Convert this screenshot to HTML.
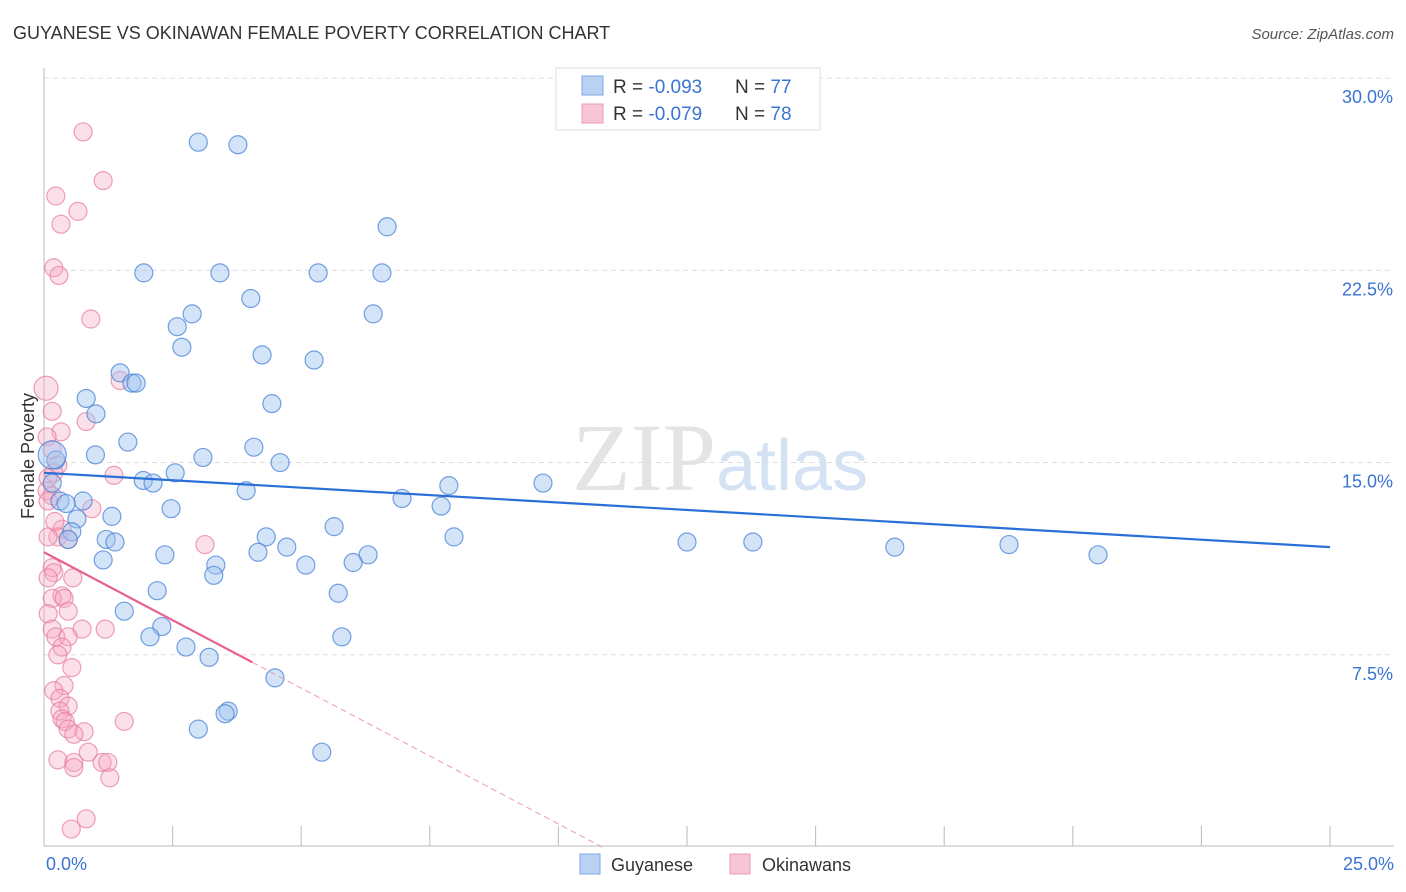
<!DOCTYPE html>
<html><head><meta charset="utf-8"><style>
body{margin:0;background:#fff;font-family:"Liberation Sans",sans-serif;}
svg{display:block}
</style></head><body>
<svg id="chart" width="1406" height="892" xmlns="http://www.w3.org/2000/svg">
<text x="13" y="39" font-size="18" fill="#333">GUYANESE VS OKINAWAN FEMALE POVERTY CORRELATION CHART</text>
<text x="1394" y="39" font-size="15" fill="#555" font-style="italic" text-anchor="end">Source: ZipAtlas.com</text>
<text x="716" y="490" font-size="96" fill="#e4e4e4" text-anchor="end" font-family="Liberation Serif,serif">ZIP</text>
<text x="716" y="490" font-size="72" fill="#d4e2f4">atlas</text>
<g id="grid"></g>
<line x1="44" y1="68" x2="44" y2="846" stroke="#bbb"/>
<line x1="44" y1="846" x2="1394" y2="846" stroke="#bbb"/>
<g id="ticks"></g>
<text transform="translate(34,456) rotate(-90)" font-size="18" fill="#333" text-anchor="middle">Female Poverty</text>
<text x="46" y="870" font-size="18" fill="#3a74d4">0.0%</text>
<text x="1394" y="870" font-size="18" fill="#3a74d4" text-anchor="end">25.0%</text>
<g id="pts"></g>
<g id="lines"></g>
<g>
<rect x="556" y="68" width="264" height="62" fill="#fff" stroke="#ddd"/>
<rect x="582" y="76" width="21" height="19" fill="#b9d2f3" stroke="#7ea9e6"/>
<rect x="582" y="104" width="21" height="19" fill="#f8c5d5" stroke="#eb9ab4"/>
<text x="613" y="93" font-size="19" fill="#333">R = <tspan fill="#3a74d4">-0.093</tspan><tspan x="735">N = </tspan><tspan fill="#3a74d4">77</tspan></text>
<text x="613" y="120" font-size="19" fill="#333">R = <tspan fill="#3a74d4">-0.079</tspan><tspan x="735">N = </tspan><tspan fill="#3a74d4">78</tspan></text>
</g>
<rect x="580" y="854" width="20" height="20" fill="#b9d2f3" stroke="#7ea9e6"/>
<text x="611" y="871" font-size="18" fill="#333">Guyanese</text>
<rect x="730" y="854" width="20" height="20" fill="#f8c5d5" stroke="#eb9ab4"/>
<text x="762" y="871" font-size="18" fill="#333">Okinawans</text>
</svg>
<script>
const yTicks=[7.5,15,22.5,30];
const yTickLabels=["7.5%","15.0%","22.5%","30.0%"];
const xTicks=[0,2.5,5,7.5,10,12.5,15,17.5,20,22.5,25];
const blueX=[3.0,3.77,6.67,1.94,3.42,5.33,6.57,4.02,2.88,6.40,2.59,2.68,4.24,5.25,1.48,1.71,1.79,0.82,4.43,1.01,1.63,4.08,1.0,3.09,4.59,0.23,0.16,2.55,1.93,2.12,0.16,3.93,7.87,9.70,6.96,7.72,0.76,0.31,0.43,2.47,0.64,1.32,5.64,4.32,7.97,0.54,0.47,1.21,1.38,4.72,4.16,12.5,13.78,16.54,18.76,20.49,2.35,6.3,6.01,1.15,3.34,5.09,3.3,2.2,5.72,1.56,2.29,2.06,5.79,2.76,3.21,4.49,3.58,3.52,3.0,5.4];
const blueY=[27.5,27.4,24.2,22.4,22.4,22.4,22.4,21.4,20.8,20.8,20.3,19.5,19.2,19.0,18.5,18.1,18.1,17.5,17.3,16.9,15.8,15.6,15.3,15.2,15.0,15.1,15.3,14.6,14.3,14.2,14.2,13.9,14.1,14.2,13.6,13.3,13.5,13.5,13.4,13.2,12.8,12.9,12.5,12.1,12.1,12.3,12.0,12.0,11.9,11.7,11.5,11.9,11.9,11.7,11.8,11.4,11.4,11.4,11.1,11.2,11.0,11.0,10.6,10.0,9.9,9.2,8.6,8.2,8.2,7.8,7.4,6.6,5.3,5.2,4.6,3.7];
const pinkX=[0.76,1.15,0.23,0.66,0.33,0.19,0.29,0.91,0.04,1.48,0.16,0.82,0.33,0.06,0.16,0.27,0.19,1.36,0.08,0.06,0.16,0.08,0.93,0.35,0.27,0.08,0.47,3.13,0.16,0.56,0.19,0.08,0.35,0.16,0.39,0.08,0.47,0.16,0.74,1.19,0.23,0.47,0.35,0.27,0.54,0.39,0.19,0.31,0.47,0.31,0.35,0.41,1.56,0.47,0.78,0.58,0.86,0.27,0.58,0.58,1.13,1.24,1.28,0.53,0.82,0.21];
const pinkY=[27.9,26.0,25.4,24.8,24.3,22.6,22.3,20.6,17.9,18.2,17.0,16.6,16.2,16.0,15.5,14.9,14.6,14.5,14.4,13.9,13.7,13.5,13.2,12.4,12.1,12.1,12.0,11.8,10.9,10.5,10.7,10.5,9.8,9.7,9.7,9.1,9.2,8.5,8.5,8.5,8.2,8.2,7.8,7.5,7.0,6.3,6.1,5.8,5.5,5.3,5.0,4.9,4.9,4.6,4.5,4.4,3.7,3.4,3.3,3.1,3.3,3.3,2.7,0.7,1.1,12.7];
const blueTrend=[14.6,11.7];
const pinkTrend=[11.5,-1.06];
const NS="http://www.w3.org/2000/svg";
const X=v=>44+v*51.44, Y=v=>847-v*25.63;
function mk(t,a,p){const e=document.createElementNS(NS,t);for(const k in a)e.setAttribute(k,a[k]);p.appendChild(e);return e;}
const grid=document.getElementById('grid'),ticks=document.getElementById('ticks'),pts=document.getElementById('pts'),lines=document.getElementById('lines');
yTicks.forEach((v,i)=>{
 const l=mk('line',{x1:44,x2:1394,y1:Y(v),y2:Y(v),stroke:'#ddd','stroke-dasharray':'5,4'},grid);
 
 
 const t=mk('text',{x:1393,y:Y(v)+25,'font-size':18,fill:'#3a74d4','text-anchor':'end'},ticks);
 t.textContent=yTickLabels[i];
 
 
});
xTicks.forEach(v=>{
 const l=mk('line',{x1:X(v),x2:X(v),y1:826,y2:846,stroke:'#bbb'},ticks);
 
 
});
pinkX.forEach((v,i)=>{
 const c=mk('circle',{cx:X(v),cy:Y(pinkY[i]),r:(i===8?12:9),fill:'rgba(245,165,192,0.35)',stroke:'rgba(230,120,155,0.7)','stroke-width':1.2},pts);
 
 
});
blueX.forEach((v,i)=>{
 const c=mk('circle',{cx:X(v),cy:Y(blueY[i]),r:(i===26?14:9),fill:'rgba(160,196,240,0.45)',stroke:'rgba(70,130,215,0.75)','stroke-width':1.2},pts);
 
 
});
const bl=mk('line',{x1:X(0),y1:Y(blueTrend[0]),x2:X(25),y2:Y(blueTrend[1]),stroke:'#2a6fd6','stroke-width':2.2},lines);


const pe=4.05, pz=-pinkTrend[0]/pinkTrend[1];
const pl=mk('line',{x1:X(0),y1:Y(pinkTrend[0]),x2:X(pe),y2:Y(pinkTrend[0]+pinkTrend[1]*pe),stroke:'#e8628e','stroke-width':2.2},lines);


const pd=mk('line',{x1:X(pe),y1:Y(pinkTrend[0]+pinkTrend[1]*pe),x2:X(pz),y2:Y(0),stroke:'#eb9ab4','stroke-width':1,'stroke-dasharray':'6,4'},lines);


</script>
</body></html>
